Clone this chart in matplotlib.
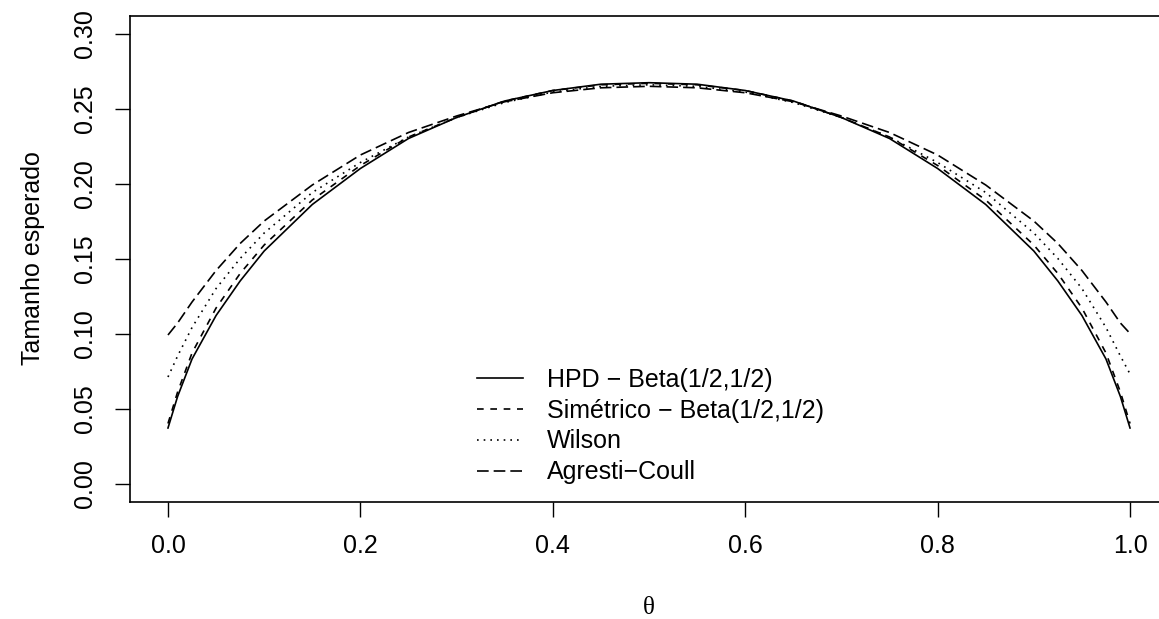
import numpy as np
import matplotlib.pyplot as plt

# values
theta = [0, 0.01, 0.025, 0.05, 0.075, 0.1, 0.15, 0.2, 0.25, 0.3, 0.35, 0.4, 0.45, 0.5,
         0.55, 0.6, 0.65, 0.7, 0.75, 0.8, 0.85, 0.9, 0.925, 0.95, 0.975, 0.99, 1.0]
hpd = [0.037, 0.058, 0.083, 0.112, 0.135, 0.155, 0.186, 0.210, 0.230, 0.244, 0.255, 0.262, 0.2662, 0.2672,
       0.2662, 0.262, 0.255, 0.244, 0.230, 0.210, 0.186, 0.155, 0.135, 0.112, 0.083, 0.058, 0.037]
simetrico = [0.040, 0.061, 0.087, 0.117, 0.140, 0.159, 0.189, 0.212, 0.231, 0.244, 0.255, 0.262, 0.2658, 0.2668,
             0.2658, 0.262, 0.255, 0.244, 0.231, 0.212, 0.189, 0.159, 0.140, 0.117, 0.087, 0.061, 0.040]
wilson = [0.071, 0.085, 0.104, 0.130, 0.150, 0.167, 0.194, 0.214, 0.231, 0.244, 0.254, 0.261, 0.2648, 0.2658,
          0.2648, 0.261, 0.254, 0.244, 0.231, 0.214, 0.194, 0.167, 0.150, 0.130, 0.104, 0.085, 0.073]
agresti = [0.099, 0.107, 0.121, 0.142, 0.160, 0.175, 0.199, 0.219, 0.234, 0.245, 0.2545, 0.2605, 0.2638, 0.2648,
           0.2638, 0.2605, 0.2545, 0.245, 0.234, 0.219, 0.199, 0.175, 0.160, 0.142, 0.121, 0.107, 0.100]

labels = ['HPD \u2212 Beta(1/2,1/2)', 'Sim\u00e9trico \u2212 Beta(1/2,1/2)', 'Wilson', 'Agresti\u2212Coull']

plt.rcParams['font.family'] = ['Liberation Sans', 'DejaVu Sans']
plt.rcParams['font.size'] = 18

fig = plt.figure(figsize=(11.59, 6.19), dpi=100)
ax = fig.add_axes([129.5 / 1159, 117.5 / 619, 1039 / 1159, 486 / 619])

lw = 1.2
ax.plot(theta, hpd, color='black', lw=lw, label=labels[0])
ax.plot(theta, simetrico, color='black', lw=lw, dashes=(4, 4), label=labels[1])
ax.plot(theta, wilson, color='black', lw=lw, dashes=(1, 3), label=labels[2])
ax.plot(theta, agresti, color='black', lw=lw, dashes=(7, 3), label=labels[3])

ax.set_xlim(-0.04, 1.04)
ax.set_ylim(-0.012, 0.312)
ax.set_xticks([0, 0.2, 0.4, 0.6, 0.8, 1.0])
ax.set_xticklabels(['0.0', '0.2', '0.4', '0.6', '0.8', '1.0'])
ax.set_yticks([0, 0.05, 0.10, 0.15, 0.20, 0.25, 0.30])
ax.set_yticklabels(['0.00', '0.05', '0.10', '0.15', '0.20', '0.25', '0.30'])
ax.tick_params(length=10.5, width=1, pad=13)
ax.tick_params(axis='y', labelrotation=90)
for t in ax.get_yticklabels():
    t.set_va('center')
for s in ax.spines.values():
    s.set_linewidth(1.2)

ax.set_ylabel('Tamanho esperado', labelpad=20)
ax.set_xlabel('\u03b8', family=['Liberation Serif', 'DejaVu Serif'], labelpad=28)

ax.legend(loc='upper left', bbox_to_anchor=(477 / 1159, 1 - 368 / 619), bbox_transform=fig.transFigure,
          frameon=False, borderpad=0, borderaxespad=0, handlelength=1.84, handletextpad=0.96,
          labelspacing=0.27)

fig.savefig('out.png', dpi=100)
